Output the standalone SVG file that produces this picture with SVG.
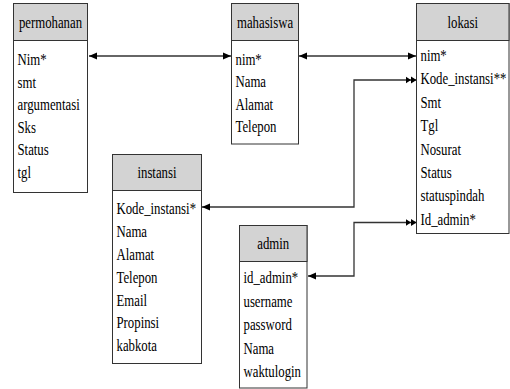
<svg xmlns="http://www.w3.org/2000/svg" width="510" height="389" viewBox="0 0 510 389" font-family="'Liberation Serif', 'DejaVu Serif', serif">
<style>
.box{fill:#fff;stroke:#333;stroke-width:1}
.hd{fill:#d3d3d3;stroke:#333;stroke-width:1}
.t{font-family:'Liberation Serif','DejaVu Serif',serif;font-size:16px;fill:#000}
.c{text-anchor:middle}
.ln{fill:none;stroke:#333;stroke-width:1.3}
</style>
<defs>
<marker id="a1" markerUnits="userSpaceOnUse" markerWidth="9" markerHeight="9" refX="8" refY="4" orient="auto-start-reverse">
<path d="M0,0.5 L8,4 L0,7.5 z" fill="#000"/>
</marker>
<marker id="a2" markerUnits="userSpaceOnUse" markerWidth="12" markerHeight="9" refX="11" refY="4" orient="auto">
<path d="M0,0.5 L5.5,4 L0,7.5 z M5.5,0.5 L11,4 L5.5,7.5 z" fill="#000"/>
</marker>
</defs>
<rect width="510" height="389" fill="#fff"/>
<g id="connectors">
<path class="ln" d="M89,56 H231" marker-start="url(#a1)" marker-end="url(#a1)"/>
<path class="ln" d="M299,56 H416" marker-start="url(#a1)" marker-end="url(#a1)"/>
<path class="ln" d="M202,207 H354 V80 H416.5" marker-start="url(#a1)" marker-end="url(#a2)"/>
<path class="ln" d="M308,276 H354 V222.5 H416.5" marker-start="url(#a1)" marker-end="url(#a2)"/>
</g>
<g id="permohanan">
<rect class="box" x="13.5" y="3.5" width="74" height="189"/>
<rect class="hd" x="13.5" y="3.5" width="74" height="37"/>
<g class="t" font-family="Liberation Serif" transform="translate(13.5,0) scale(0.8,1)">
<text class="c" x="46.25" y="28.5">permohanan</text>
<text x="5" y="65">Nim*</text>
<text x="5" y="87.6">smt</text>
<text x="5" y="110.2">argumentasi</text>
<text x="5" y="132.8">Sks</text>
<text x="5" y="155.4">Status</text>
<text x="5" y="178">tgl</text>
</g>
</g>
<g id="mahasiswa">
<rect class="box" x="231.5" y="3.5" width="67" height="140.5"/>
<rect class="hd" x="231.5" y="3.5" width="67" height="37"/>
<g class="t" font-family="Liberation Serif" transform="translate(231.5,0) scale(0.8,1)">
<text class="c" x="41.9" y="28.5">mahasiswa</text>
<text x="5" y="65">nim*</text>
<text x="5" y="87.5">Nama</text>
<text x="5" y="110">Alamat</text>
<text x="5" y="132.5">Telepon</text>
</g>
</g>
<g id="lokasi">
<rect class="box" x="416.5" y="3.5" width="92.5" height="230"/>
<rect class="hd" x="416.5" y="3.5" width="92.5" height="37"/>
<g class="t" font-family="Liberation Serif" transform="translate(416.5,0) scale(0.8,1)">
<text class="c" x="57.8" y="28.5">lokasi</text>
<text x="5" y="61">nim*</text>
<text x="5" y="84.4">Kode_instansi**</text>
<text x="5" y="107.8">Smt</text>
<text x="5" y="131.2">Tgl</text>
<text x="5" y="154.6">Nosurat</text>
<text x="5" y="178">Status</text>
<text x="5" y="201.4">statuspindah</text>
<text x="5" y="224.8">Id_admin*</text>
</g>
</g>
<g id="instansi">
<rect class="box" x="112.5" y="154.5" width="89" height="209"/>
<rect class="hd" x="112.5" y="154.5" width="89" height="36"/>
<g class="t" font-family="Liberation Serif" transform="translate(112.5,0) scale(0.8,1)">
<text class="c" x="55.6" y="178.5">instansi</text>
<text x="5" y="214">Kode_instansi*</text>
<text x="5" y="236.9">Nama</text>
<text x="5" y="259.8">Alamat</text>
<text x="5" y="282.7">Telepon</text>
<text x="5" y="305.6">Email</text>
<text x="5" y="328.5">Propinsi</text>
<text x="5" y="351.4">kabkota</text>
</g>
</g>
<g id="admin">
<rect class="box" x="239.5" y="225.5" width="67.5" height="162.5"/>
<rect class="hd" x="239.5" y="225.5" width="67.5" height="36"/>
<g class="t" font-family="Liberation Serif" transform="translate(239.5,0) scale(0.8,1)">
<text class="c" x="42.2" y="249">admin</text>
<text x="5" y="283.5">id_admin*</text>
<text x="5" y="306.9">username</text>
<text x="5" y="330.3">password</text>
<text x="5" y="353.7">Nama</text>
<text x="5" y="377.1">waktulogin</text>
</g>
</g>
</svg>
